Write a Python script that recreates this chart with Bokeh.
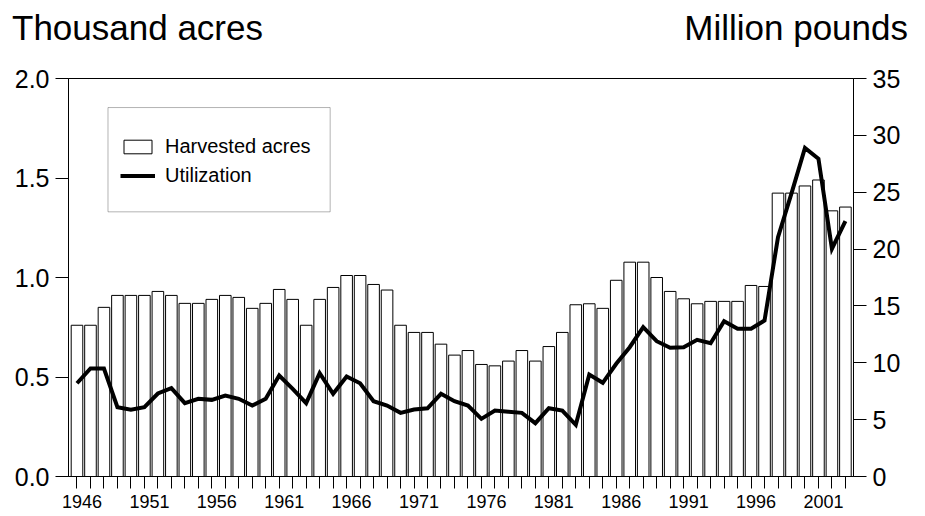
from bokeh.plotting import figure
from bokeh.models import (Range1d, LinearAxis, FixedTicker, Legend, LegendItem,
                          BoxAnnotation, ColumnDataSource, Div)
from bokeh.layouts import column
from bokeh.embed import file_html
from bokeh.resources import INLINE

years = list(range(1946, 2004))
acres = [0.76, 0.76, 0.85, 0.91, 0.91, 0.91, 0.93, 0.91, 0.87, 0.87,
         0.89, 0.91, 0.90, 0.845, 0.87, 0.94, 0.89, 0.76, 0.89, 0.95,
         1.01, 1.01, 0.965, 0.937, 0.76, 0.724, 0.724, 0.665, 0.61, 0.633,
         0.563, 0.556, 0.58, 0.633, 0.58, 0.653, 0.724, 0.863, 0.868,
         0.845, 0.986, 1.077, 1.077, 1.0, 0.93, 0.893, 0.868, 0.88, 0.88,
         0.88, 0.96, 0.955, 1.424, 1.424, 1.46, 1.49, 1.335, 1.354]
utilization = [8.2, 9.5, 9.5, 6.1, 5.87, 6.1, 7.3, 7.77, 6.45, 6.83,
               6.74, 7.12, 6.83, 6.24, 6.83, 8.88, 7.71, 6.45, 9.09, 7.27,
               8.8, 8.2, 6.62, 6.24, 5.6, 5.89, 6.0, 7.27, 6.62, 6.24,
               5.07, 5.8, 5.7, 5.6, 4.69, 6.0, 5.8, 4.54, 8.97,
               8.24, 9.91, 11.37, 13.13, 11.9, 11.32, 11.37, 12.02, 11.72, 13.66,
               12.99, 12.99, 13.72, 21.05, 24.9, 28.9, 27.94, 20.03, 22.46]
left_ticks = [0.0, 0.5, 1.0, 1.5, 2.0]
right_ticks = [0, 5, 10, 15, 20, 25, 30, 35]
year_label_years = [1946, 1951, 1956, 1961, 1966, 1971, 1976, 1981, 1986, 1991, 1996, 2001]
left_title = "Thousand acres"
right_title = "Million pounds"

FONT = "Liberation Sans"
W = 913
NB = "\u00a0\u00a0"  # nudges year labels slightly right of their ticks, as in the original

header = Div(
    text=(f'<div style="position:relative;width:{W}px;height:66px;'
          f'font-family:\'{FONT}\';font-size:35px;color:black;line-height:1;">'
          f'<span style="position:absolute;left:12px;top:10px;white-space:nowrap;">{left_title}</span>'
          f'<span style="position:absolute;right:5px;top:10px;white-space:nowrap;">{right_title}</span>'
          f'</div>'),
    width=W, height=66, margin=(0, 0, 0, 0))

src = ColumnDataSource(dict(year=years, acres=acres, util=utilization))

p = figure(width=W, height=448, output_backend="svg", toolbar_location=None,
           x_range=Range1d(1945.37, 2003.6), y_range=Range1d(0, 2.0),
           min_border_left=68, min_border_right=W - 68 - 785, min_border_top=12,
           min_border_bottom=38, margin=(0, 0, 0, 0))
p.extra_y_ranges = {"right": Range1d(0, 35)}
p.xgrid.visible = False
p.ygrid.visible = False
p.outline_line_color = "black"
p.outline_line_width = 1
p.background_fill_color = "white"
p.border_fill_color = "white"

bars = p.vbar(x="year", top="acres", width=0.86, bottom=0, source=src,
              fill_color="white", line_color="black", line_width=1)
line = p.line(x="year", y="util", source=src, y_range_name="right",
              line_color="black", line_width=4, line_join="miter")

xa = p.xaxis[0]
xa.ticker = FixedTicker(ticks=years)
xa.major_label_overrides = {y: (NB + str(y) if y in year_label_years else "") for y in years}
xa.major_tick_out = 12
xa.major_tick_in = 0
xa.minor_tick_out = 0
xa.major_label_standoff = 3
xa.major_label_text_font = FONT
xa.major_label_text_font_size = "18px"
xa.major_label_text_color = "black"

ya = p.yaxis[0]
ya.ticker = FixedTicker(ticks=left_ticks)
ya.major_label_overrides = {t: f"{t:.1f}" for t in left_ticks}
ya.major_tick_out = 13
ya.major_tick_in = 0
ya.minor_tick_out = 0
ya.major_label_standoff = 6
ya.major_label_text_font = FONT
ya.major_label_text_font_size = "25px"
ya.major_label_text_color = "black"

ra = LinearAxis(y_range_name="right")
ra.ticker = FixedTicker(ticks=right_ticks)
ra.major_tick_out = 13
ra.major_tick_in = 0
ra.minor_tick_out = 0
ra.major_label_standoff = 6
ra.major_label_text_font = FONT
ra.major_label_text_font_size = "25px"
ra.major_label_text_color = "black"
p.add_layout(ra, "right")

for ax in (xa, ya, ra):
    ax.axis_line_color = "black"
    ax.major_tick_line_color = "black"

box = BoxAnnotation(left=1948.30, right=1964.78, top=1.854, bottom=1.330,
                    fill_color="white", fill_alpha=1.0,
                    line_color="black", line_width=1, level="underlay")
p.add_layout(box)

legend = Legend(items=[LegendItem(label="Harvested acres", renderers=[bars]),
                       LegendItem(label="Utilization", renderers=[line])],
                location=(46, 283), margin=0, padding=6,
                border_line_alpha=0, background_fill_alpha=0,
                glyph_width=35, glyph_height=17, label_height=22, spacing=6,
                label_standoff=10, label_text_font=FONT,
                label_text_font_size="20px", label_text_color="black")
p.add_layout(legend)

layout = column(header, p, spacing=0)
open("out.html", "w").write(file_html(layout, INLINE))
